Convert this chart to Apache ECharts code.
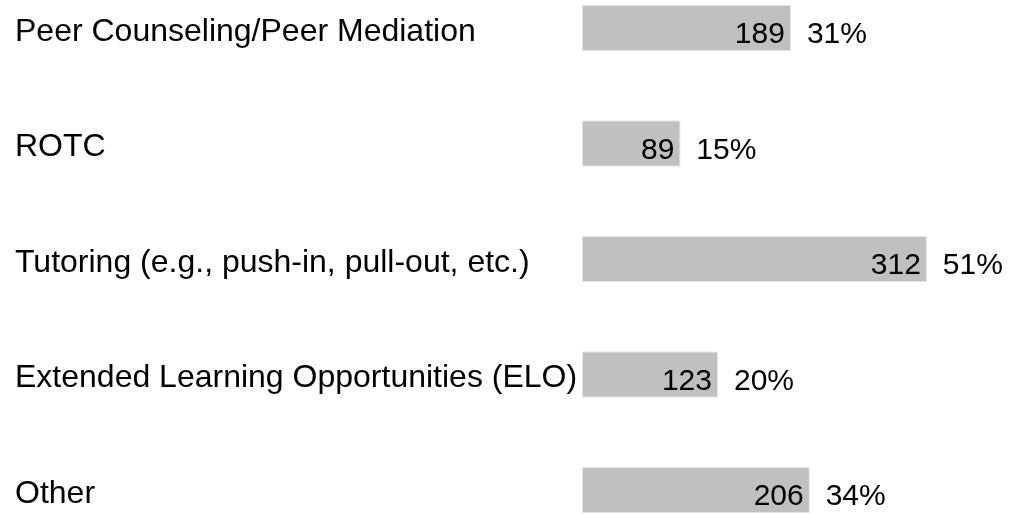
<!DOCTYPE html>
<html>
<head>
<meta charset="utf-8">
<script src="https://cdn.jsdelivr.net/npm/echarts@6/dist/echarts.min.js"></script>
<style>html,body{margin:0;padding:0;background:#fff}#c{width:1010px;height:514px}</style>
</head>
<body>
<div id="c"></div>
<script>
const categories = ["Peer Counseling/Peer Mediation", "ROTC", "Tutoring (e.g., push-in, pull-out, etc.)", "Extended Learning Opportunities (ELO)", "Other"];
const counts = [189, 89, 312, 123, 206];
const percents = [31, 15, 51, 20, 34];

const chart = echarts.init(document.getElementById('c'));
const font = 'Liberation Sans, Arial, sans-serif';
chart.setOption({
  animation: false,
  grid: { left: 582, right: 8, top: 28, bottom: 24 },
  xAxis: { type: 'value', min: 0, max: 380, show: false },
  yAxis: {
    type: 'category', data: categories, inverse: true, boundaryGap: false,
    axisLine: { show: false }, axisTick: { show: false }, splitLine: { show: false },
    axisLabel: {
      align: 'left', margin: 567, fontSize: 32, color: '#000', fontFamily: font,
      formatter: v => '{a|' + v + '}',
      rich: { a: { fontSize: 32, color: '#000', fontFamily: font, padding: [8, 0, 0, 0] } }
    }
  },
  series: [
    {
      type: 'bar', data: counts, barWidth: 46,
      itemStyle: { color: '#c0c0c0', borderColor: '#e4e4e4', borderWidth: 1 },
      label: { show: true, position: 'insideRight', distance: 6, offset: [0, 7], fontSize: 30, color: '#000', fontFamily: font }
    },
    {
      type: 'bar', data: counts, barWidth: 46, barGap: '-100%', silent: true,
      itemStyle: { color: 'rgba(0,0,0,0)' },
      label: { show: true, position: 'right', distance: 16, offset: [0, 7], fontSize: 30, color: '#000', fontFamily: font,
        formatter: p => percents[p.dataIndex] + '%' }
    }
  ]
});
</script>
</body>
</html>
